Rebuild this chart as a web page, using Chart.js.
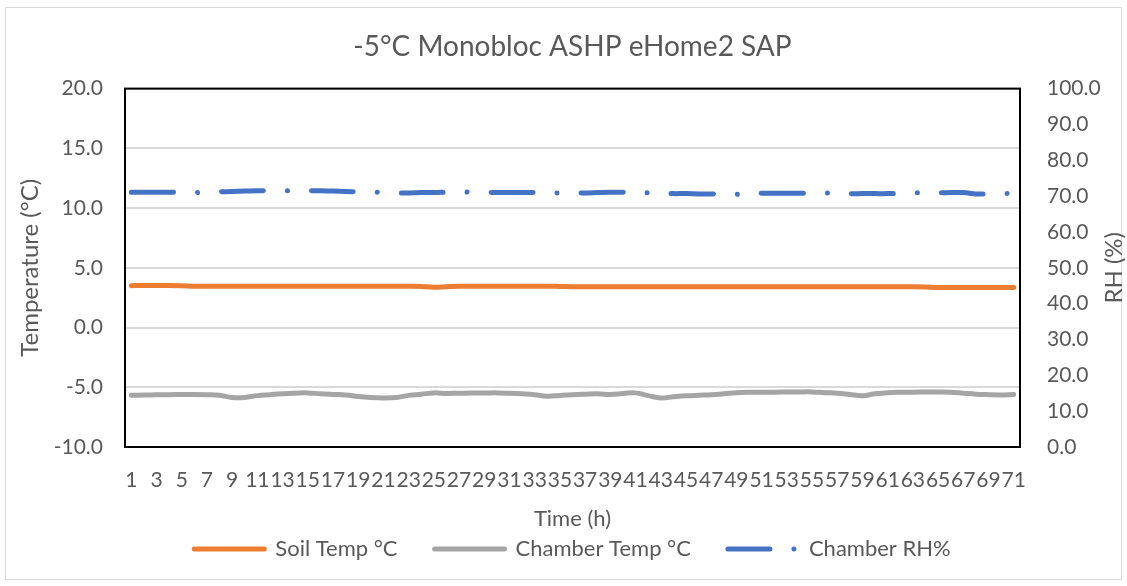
<!DOCTYPE html>
<html>
<head>
<meta charset="utf-8">
<title>-5°C Monobloc ASHP eHome2 SAP</title>
<script src="https://cdn.jsdelivr.net/npm/chart.js@4.4.1/dist/chart.umd.min.js"></script>
<style>
  html, body { margin: 0; padding: 0; background: #fff; }
  #wrap { width: 1127px; height: 586px; }
</style>
</head>
<body>
<div id="wrap"><canvas id="grafico" width="1127" height="586"></canvas></div>
<script>
// Horas 1..71
const horas = [];
for (let h = 1; h <= 71; h++) horas.push(String(h));

// Temperatura del suelo (°C)
const sueloTemp = [
  3.50, 3.52, 3.52, 3.52, 3.50, 3.45, 3.45, 3.45, 3.45, 3.45,
  3.45, 3.45, 3.45, 3.45, 3.45, 3.45, 3.45, 3.45, 3.45, 3.45,
  3.45, 3.45, 3.45, 3.44, 3.38, 3.42, 3.46, 3.46, 3.46, 3.46,
  3.46, 3.46, 3.46, 3.46, 3.44, 3.42, 3.42, 3.42, 3.42, 3.42,
  3.42, 3.42, 3.42, 3.42, 3.42, 3.42, 3.42, 3.42, 3.42, 3.42,
  3.42, 3.42, 3.42, 3.42, 3.42, 3.42, 3.42, 3.42, 3.42, 3.42,
  3.42, 3.42, 3.42, 3.40, 3.35, 3.35, 3.35, 3.35, 3.35, 3.35,
  3.35
];

// Temperatura de la cámara (°C)
const camaraTemp = [
  -5.67, -5.65, -5.63, -5.62, -5.61, -5.61, -5.63, -5.67, -5.85, -5.85,
  -5.70, -5.62, -5.55, -5.50, -5.47, -5.55, -5.60, -5.64, -5.78, -5.86,
  -5.89, -5.85, -5.68, -5.58, -5.47, -5.52, -5.50, -5.49, -5.48, -5.47,
  -5.50, -5.55, -5.62, -5.75, -5.68, -5.62, -5.58, -5.55, -5.60, -5.52,
  -5.47, -5.70, -5.89, -5.80, -5.72, -5.67, -5.63, -5.55, -5.45, -5.42,
  -5.42, -5.41, -5.40, -5.39, -5.39, -5.45, -5.50, -5.60, -5.70, -5.55,
  -5.45, -5.42, -5.41, -5.40, -5.40, -5.42, -5.50, -5.58, -5.62, -5.64,
  -5.60
];

// Humedad relativa de la cámara (%)
const camaraRH = [
  71.1, 71.1, 71.1, 71.1, 71.0, 71.0, 71.1, 71.2, 71.3, 71.4,
  71.5, 71.5, 71.5, 71.5, 71.5, 71.5, 71.4, 71.3, 71.2, 71.2,
  71.0, 70.9, 70.9, 71.0, 71.0, 71.1, 71.2, 71.1, 71.0, 71.0,
  71.0, 71.0, 71.0, 70.9, 70.9, 70.9, 70.9, 71.0, 71.1, 71.1,
  71.0, 70.9, 70.8, 70.7, 70.7, 70.6, 70.6, 70.5, 70.5, 70.7,
  70.8, 70.8, 70.8, 70.8, 70.9, 70.9, 70.8, 70.7, 70.7, 70.7,
  70.7, 70.8, 70.9, 70.9, 70.9, 71.0, 71.0, 70.6, 70.6, 70.7,
  70.7
];

const gris = "#595959";
const fuente = "Lato";
const tituloRH = "RH (%)";

// Marco exterior, caja negra del área de trazado y título del eje derecho
const marcos = {
  id: "marcos",
  beforeDraw(chart) {
    const ctx = chart.ctx;
    ctx.save();
    ctx.fillStyle = "#fff";
    ctx.fillRect(0, 0, chart.width, chart.height);
    ctx.strokeStyle = "#d9d9d9";
    ctx.lineWidth = 1;
    ctx.strokeRect(5.5, 7.5, 1116, 572);
    ctx.restore();
  },
  beforeDatasetsDraw(chart) {
    const a = chart.chartArea;
    const ctx = chart.ctx;
    ctx.save();
    ctx.strokeStyle = "#000";
    ctx.lineWidth = 2;
    ctx.strokeRect(a.left, a.top, a.right - a.left, a.bottom - a.top);
    ctx.restore();
  },
  afterDraw(chart) {
    // como en Excel, el título secundario se lee de abajo hacia arriba
    const a = chart.chartArea;
    const ctx = chart.ctx;
    ctx.save();
    ctx.translate(1114, (a.top + a.bottom) / 2);
    ctx.rotate(-Math.PI / 2);
    ctx.fillStyle = gris;
    ctx.font = "24px " + fuente;
    ctx.textAlign = "center";
    ctx.textBaseline = "middle";
    ctx.fillText(tituloRH, 0, 0);
    ctx.restore();
  }
};

new Chart(document.getElementById("grafico").getContext("2d"), {
  type: "line",
  data: {
    labels: horas,
    datasets: [
      {
        label: "Soil Temp °C",
        data: sueloTemp,
        yAxisID: "y",
        borderColor: "#ED7D31",
        backgroundColor: "#ED7D31",
        borderWidth: 5,
        borderCapStyle: "round",
        pointRadius: 0,
        tension: 0.4
      },
      {
        label: "Chamber Temp °C",
        data: camaraTemp,
        yAxisID: "y",
        borderColor: "#A5A5A5",
        backgroundColor: "#A5A5A5",
        borderWidth: 5,
        borderCapStyle: "round",
        pointRadius: 0,
        tension: 0.4
      },
      {
        label: "Chamber RH%",
        data: camaraRH,
        yAxisID: "y1",
        borderColor: "#4472C4",
        backgroundColor: "#4472C4",
        borderWidth: 5,
        borderCapStyle: "round",
        borderDash: [42, 24, 0.01, 24],
        pointRadius: 0,
        tension: 0.4
      }
    ]
  },
  plugins: [marcos],
  options: {
    responsive: false,
    animation: false,
    layout: { padding: { left: 0, right: 0, top: 0, bottom: 16 } },
    plugins: {
      title: {
        display: true,
        fullSize: false,
        text: "-5°C Monobloc ASHP eHome2 SAP",
        color: gris,
        font: { family: fuente, size: 28, weight: "normal" },
        padding: { top: 30, bottom: 25 }
      },
      legend: {
        position: "bottom",
        fullSize: false,
        labels: {
          color: gris,
          font: { family: fuente, size: 22 },
          usePointStyle: true,
          pointStyle: "line",
          pointStyleWidth: 70,
          boxHeight: 4,
          padding: 37,
          generateLabels(chart) {
            const items = Chart.defaults.plugins.legend.labels.generateLabels(chart);
            items.forEach((it) => {
              it.lineWidth = 5;
              it.lineCap = "round";
              it.pointStyle = "line";
              if (it.datasetIndex === 2) it.lineDash = [42, 24, 0.01, 100];
            });
            return items;
          }
        }
      },
      tooltip: { enabled: false }
    },
    scales: {
      x: {
        offset: true,
        grid: { display: false, drawTicks: false },
        border: { display: false },
        ticks: {
          color: gris,
          font: { family: fuente, size: 21 },
          autoSkip: false,
          maxRotation: 0,
          padding: 21,
          callback(v, i) { return i % 2 === 0 ? horas[i] : ""; }
        },
        title: {
          display: true,
          text: "Time (h)",
          color: gris,
          font: { family: fuente, size: 22 },
          // el título cae sobre la franja de la leyenda
          padding: { top: 0, bottom: -31 }
        },
        afterFit(s) { s.height = 54; }
      },
      y: {
        position: "left",
        min: -10,
        max: 20,
        grid: { color: "#d9d9d9", lineWidth: 2, drawTicks: false },
        border: { display: false },
        ticks: {
          stepSize: 5,
          color: gris,
          padding: 22,
          font: { family: fuente, size: 21 },
          callback(v) { return v.toFixed(1); }
        },
        title: {
          display: true,
          text: "Temperature (°C)",
          color: gris,
          font: { family: fuente, size: 24 },
          padding: { top: 16, bottom: 0 }
        },
        afterFit(s) { s.width = 125; }
      },
      y1: {
        position: "right",
        min: 0,
        max: 100,
        grid: { display: false, drawTicks: false },
        border: { display: false },
        ticks: {
          stepSize: 10,
          color: gris,
          padding: 27,
          font: { family: fuente, size: 21 },
          callback(v) { return v.toFixed(1); }
        },
        afterFit(s) { s.width = 107; }
      }
    }
  }
});
</script>
</body>
</html>
